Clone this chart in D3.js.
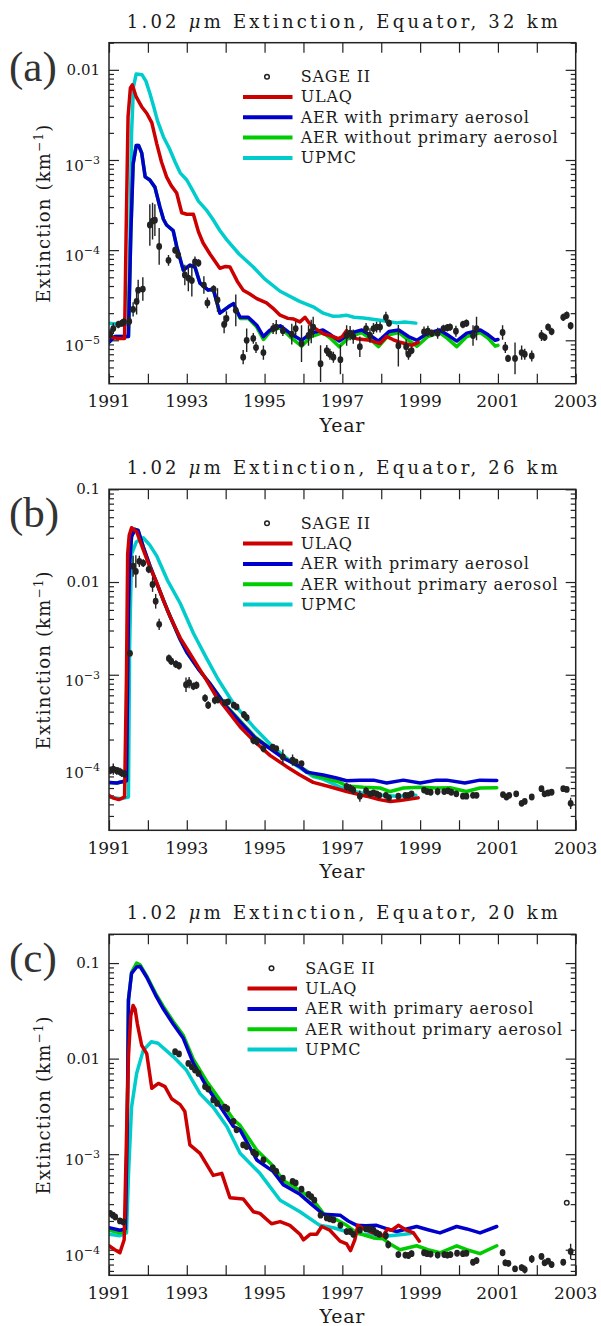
<!DOCTYPE html>
<html>
<head>
<meta charset="utf-8">
<script src="https://cdn.jsdelivr.net/npm/d3@7"></script>
<style>
  body { margin: 0; background: #fff; }
  svg text { fill: #1a1a1a; }
</style>
</head>
<body>
<script>
// ---- data (year, extinction km^-1) ----
const seriesNames = ['ULAQ', 'AER with primary aerosol', 'AER without primary aerosol', 'UPMC'];
const seriesColors = ['#cc0000', '#0000cc', '#00cc00', '#00cccc'];
const panelTags = ['(a)', '(b)', '(c)'];
const panelAltitudes = [32, 26, 20];
const xYears = d3.range(1991, 2004);

// 32 km
const ulaq32 = [[1991.0,1.1e-5],[1991.2,1.05e-5],[1991.4,1.05e-5],[1991.44,1.5e-4],[1991.49,3e-3],[1991.55,6.3e-3],[1991.6,6.8e-3],[1991.7,5e-3],[1991.84,3.9e-3],[1991.97,3.3e-3],[1992.1,2.6e-3],[1992.23,1.5e-3],[1992.35,9.5e-4],[1992.48,6.5e-4],[1992.6,5.2e-4],[1992.74,4.3e-4],[1992.87,2.6e-4],[1993.0,2.5e-4],[1993.17,2.5e-4],[1993.3,1.6e-4],[1993.42,1.2e-4],[1993.6,9e-5],[1993.85,6.3e-5],[1994.0,6.6e-5],[1994.11,6.5e-5],[1994.3,4.5e-5],[1994.45,3.6e-5],[1994.6,3.3e-5],[1994.8,2.9e-5],[1995.05,2.6e-5],[1995.25,2.2e-5],[1995.4,1.9e-5],[1995.6,1.75e-5],[1995.75,1.72e-5],[1995.91,1.6e-5],[1996.04,1.8e-5],[1996.15,1.55e-5],[1996.25,1.4e-5],[1996.51,1.18e-5],[1996.68,1.13e-5],[1996.9,1.04e-5],[1997.0,1.1e-5],[1997.11,1.28e-5],[1997.25,1.1e-5],[1997.37,1.04e-5],[1997.71,1.0e-5],[1997.97,9.2e-6],[1998.14,1.1e-5],[1998.3,1.02e-5],[1998.48,9.5e-6],[1998.78,8.8e-6],[1998.95,9.5e-6]];
const aerWith32 = [[1991.0,9.5e-6],[1991.15,1.1e-5],[1991.5,1.1e-5],[1991.56,1.5e-4],[1991.62,9e-4],[1991.7,1.45e-3],[1991.76,1.45e-3],[1991.84,1.2e-3],[1991.93,6.5e-4],[1992.05,6e-4],[1992.18,5e-4],[1992.31,3e-4],[1992.4,2.2e-4],[1992.48,1.9e-4],[1992.65,1.65e-4],[1992.74,1.1e-4],[1992.91,6e-5],[1993.08,6.8e-5],[1993.21,6.5e-5],[1993.34,4.3e-5],[1993.55,3.6e-5],[1993.68,3.7e-5],[1993.85,2e-5],[1994.07,2.35e-5],[1994.2,2.55e-5],[1994.37,1.8e-5],[1994.58,1.8e-5],[1994.8,1.47e-5],[1994.97,1.1e-5],[1995.14,1.3e-5],[1995.4,1.45e-5],[1995.65,1.2e-5],[1995.95,1.0e-5],[1996.2,1.2e-5],[1996.5,1.3e-5],[1996.7,1.15e-5],[1996.92,9.8e-6],[1997.2,1.2e-5],[1997.5,1.3e-5],[1997.7,1.15e-5],[1997.93,9.8e-6],[1998.2,1.25e-5],[1998.45,1.3e-5],[1998.7,1.1e-5],[1998.92,1.0e-5],[1999.2,1.2e-5],[1999.5,1.3e-5],[1999.7,1.15e-5],[1999.94,9.8e-6],[2000.2,1.2e-5],[2000.55,1.3e-5],[2000.75,1.15e-5],[2000.93,1.0e-5],[2001.0,1.02e-5]];
const aerWithout32 = [[1991.0,9.5e-6],[1991.15,1.1e-5],[1991.5,1.1e-5],[1991.56,1.5e-4],[1991.62,9e-4],[1991.7,1.45e-3],[1991.76,1.45e-3],[1991.84,1.2e-3],[1991.93,6.5e-4],[1992.05,6e-4],[1992.18,5e-4],[1992.31,3e-4],[1992.4,2.2e-4],[1992.48,1.9e-4],[1992.65,1.65e-4],[1992.74,1.1e-4],[1992.91,6e-5],[1993.08,6.8e-5],[1993.21,6.5e-5],[1993.34,4.3e-5],[1993.55,3.6e-5],[1993.68,3.7e-5],[1993.85,2e-5],[1994.07,2.35e-5],[1994.2,2.55e-5],[1994.37,1.75e-5],[1994.58,1.75e-5],[1994.8,1.4e-5],[1994.97,1.02e-5],[1995.14,1.25e-5],[1995.4,1.4e-5],[1995.65,1.1e-5],[1995.95,8.6e-6],[1996.2,1.1e-5],[1996.5,1.22e-5],[1996.7,1.05e-5],[1996.92,8.5e-6],[1997.2,1.1e-5],[1997.5,1.22e-5],[1997.7,1.05e-5],[1997.93,8.5e-6],[1998.2,1.15e-5],[1998.45,1.22e-5],[1998.7,1.0e-5],[1998.92,8.6e-6],[1999.2,1.1e-5],[1999.5,1.22e-5],[1999.7,1.05e-5],[1999.94,8.5e-6],[2000.2,1.1e-5],[2000.55,1.22e-5],[2000.75,1.05e-5],[2000.93,8.6e-6],[2001.0,8.8e-6]];
const upmc32 = [[1991.0,1.55e-5],[1991.3,1.5e-5],[1991.5,1.5e-5],[1991.54,1.5e-4],[1991.58,2e-3],[1991.63,6.5e-3],[1991.7,9e-3],[1991.85,8.8e-3],[1991.95,7.5e-3],[1992.05,5.5e-3],[1992.15,3.9e-3],[1992.25,2.7e-3],[1992.4,1.8e-3],[1992.55,1.35e-3],[1992.7,9.5e-4],[1992.83,7.2e-4],[1993.0,6e-4],[1993.15,4.6e-4],[1993.3,3.5e-4],[1993.5,2.8e-4],[1993.67,2.2e-4],[1993.85,1.65e-4],[1994.03,1.3e-4],[1994.35,9e-5],[1994.71,6.5e-5],[1995.0,4.8e-5],[1995.4,3.5e-5],[1995.9,2.7e-5],[1996.25,2.35e-5],[1996.51,2e-5],[1996.75,1.85e-5],[1996.94,1.86e-5],[1997.1,1.9e-5],[1997.3,1.8e-5],[1997.54,1.77e-5],[1997.97,1.67e-5],[1998.4,1.56e-5],[1998.6,1.6e-5],[1998.89,1.55e-5]];
// SAGE II: [year, value, error factor]
const sage32 = [[1991.03,1.17e-5,1.15],[1991.11,1.35e-5,1.15],[1991.24,1.5e-5,1.1],[1991.33,1.55e-5,1.1],[1991.38,1.6e-5,1.1],[1991.52,1.62e-5,1.15],[1991.62,2.2e-5,1.2],[1991.71,2.7e-5,1.4],[1991.75,3.6e-5,1.3],[1991.87,3.7e-5,1.35],[1992.05,1.9e-4,1.7],[1992.12,2.1e-4,1.6],[1992.18,2.15e-4,1.5],[1992.29,1.1e-4,1.6],[1992.53,7.7e-5,1.15],[1992.70,1.0e-4,1.1],[1992.78,8.8e-5,1.1],[1992.95,5.3e-5,1.3],[1993.04,4.9e-5,1.4],[1993.13,4.6e-5,1.5],[1993.21,7.4e-5,1.15],[1993.3,7.2e-5,1.1],[1993.44,4.1e-5,1.25],[1993.53,2.6e-5,1.15],[1993.69,3.7e-5,1.1],[1993.79,2.8e-5,1.35],[1993.96,1.5e-5,1.25],[1994.02,1.75e-5,1.2],[1994.26,2.15e-5,1.5],[1994.45,6.5e-6,1.2],[1994.54,1.0e-5,1.35],[1994.71,1.05e-5,1.15],[1994.78,8.3e-6,1.15],[1994.97,7.3e-6,1.2],[1995.22,1.35e-5,1.15],[1995.3,1.4e-5,1.2],[1995.47,1.28e-5,1.15],[1995.7,1.17e-5,1.3],[1995.8,1.35e-5,1.2],[1995.95,9.2e-6,1.6],[1996.13,1.13e-5,1.3],[1996.2,1.25e-5,1.35],[1996.25,1.4e-5,1.3],[1996.44,5.5e-6,1.6],[1996.6,7.7e-6,1.15],[1996.68,7e-6,1.15],[1996.77,6.5e-6,1.15],[1996.95,6.1e-6,1.45],[1997.11,1.13e-5,1.3],[1997.2,1.2e-5,1.2],[1997.28,1.1e-5,1.2],[1997.45,8.5e-6,1.3],[1997.61,1.35e-5,1.15],[1997.71,1.13e-5,1.2],[1997.8,1.35e-5,1.15],[1997.88,1.4e-5,1.15],[1997.97,1.4e-5,1.15],[1998.12,1.8e-5,1.15],[1998.2,1.55e-5,1.1],[1998.44,8.7e-6,1.7],[1998.64,8.5e-6,1.2],[1998.7,7e-6,1.15],[1998.78,7.7e-6,1.1],[1999.1,1.24e-5,1.15],[1999.2,1.26e-5,1.15],[1999.3,1.2e-5,1.1],[1999.45,1.2e-5,1.15],[1999.6,1.35e-5,1.1],[1999.7,1.38e-5,1.1],[1999.77,1.4e-5,1.1],[1999.92,1.26e-5,1.15],[2000.1,1.5e-5,1.1],[2000.19,1.55e-5,1.1],[2000.36,1.13e-5,1.3],[2000.45,1.35e-5,1.35],[2001.12,1.22e-5,1.2],[2001.19,8.3e-6,1.15],[2001.26,6.3e-6,1.1],[2001.44,6.3e-6,1.5],[2001.61,7.3e-6,1.2],[2001.69,7e-6,1.15],[2001.87,6.7e-6,1.15],[2002.12,1.13e-5,1.15],[2002.2,1.08e-5,1.1],[2002.29,1.4e-5,1.1],[2002.38,1.25e-5,1.1],[2002.68,1.8e-5,1.1],[2002.77,1.9e-5,1.1],[2002.87,1.45e-5,1.1]];

// 26 km
const ulaq26 = [[1991.0,5e-5],[1991.1,4.7e-5],[1991.25,4.5e-5],[1991.4,4.8e-5],[1991.45,1e-3],[1991.48,2e-2],[1991.52,3.2e-2],[1991.58,3.85e-2],[1991.71,3.5e-2],[1991.88,2.24e-2],[1992.05,1.45e-2],[1992.23,9.8e-3],[1992.4,6.3e-3],[1992.57,4.26e-3],[1992.83,2.5e-3],[1993.08,1.7e-3],[1993.3,1.2e-3],[1993.51,8.7e-4],[1993.75,5.9e-4],[1994.03,4.2e-4],[1994.37,2.75e-4],[1994.71,1.96e-4],[1995.14,1.35e-4],[1995.57,1.02e-4],[1995.91,8.3e-5],[1996.25,6.9e-5],[1996.68,6.2e-5],[1997.11,5.5e-5],[1997.62,4.9e-5],[1997.95,4.5e-5],[1998.23,4.3e-5],[1998.48,4.4e-5],[1998.95,4.7e-5]];
const aerWith26 = [[1991.0,6.9e-5],[1991.2,6.8e-5],[1991.45,7.2e-5],[1991.5,5e-3],[1991.53,1.6e-2],[1991.58,3.1e-2],[1991.67,3.7e-2],[1991.75,3.6e-2],[1991.88,2.4e-2],[1992.05,1.5e-2],[1992.23,9.6e-3],[1992.5,5e-3],[1992.83,2.4e-3],[1993.0,1.75e-3],[1993.3,1.15e-3],[1993.6,8e-4],[1994.0,4.6e-4],[1994.37,3.1e-4],[1994.75,2.1e-4],[1995.14,1.6e-4],[1995.5,1.25e-4],[1995.91,1.02e-4],[1996.08,8.9e-5],[1996.51,8.3e-5],[1996.85,7.7e-5],[1997.11,7.2e-5],[1997.45,7.3e-5],[1997.8,7.3e-5],[1998.14,6.8e-5],[1998.57,7.3e-5],[1999.0,6.8e-5],[1999.42,7.3e-5],[1999.68,7.3e-5],[2000.15,6.8e-5],[2000.54,7.3e-5],[2000.97,7.25e-5]];
const aerWithout26 = [[1991.0,6.9e-5],[1991.2,6.8e-5],[1991.45,7.2e-5],[1991.5,5e-3],[1991.53,1.6e-2],[1991.58,3.1e-2],[1991.67,3.7e-2],[1991.75,3.6e-2],[1991.88,2.4e-2],[1992.05,1.5e-2],[1992.23,9.6e-3],[1992.5,5e-3],[1992.83,2.4e-3],[1993.0,1.75e-3],[1993.3,1.15e-3],[1993.6,8e-4],[1994.0,4.7e-4],[1994.37,3.2e-4],[1994.75,2.15e-4],[1995.14,1.62e-4],[1995.5,1.28e-4],[1995.91,1.02e-4],[1996.25,8.3e-5],[1996.94,6.9e-5],[1997.11,6.3e-5],[1997.54,6.1e-5],[1997.97,6e-5],[1998.23,5.5e-5],[1998.57,6e-5],[1999.0,6.1e-5],[1999.42,6e-5],[1999.77,6.05e-5],[2000.19,5.5e-5],[2000.54,6e-5],[2000.97,6.05e-5]];
const upmc26 = [[1991.0,4.8e-5],[1991.3,4.6e-5],[1991.5,4.8e-5],[1991.53,2e-3],[1991.58,2e-2],[1991.7,2.7e-2],[1991.88,3e-2],[1992.05,2.5e-2],[1992.23,1.9e-2],[1992.5,1.05e-2],[1992.83,5.9e-3],[1993.17,2.8e-3],[1993.51,1.5e-3],[1993.8,9e-4],[1994.2,4.9e-4],[1994.71,2.75e-4],[1995.22,1.66e-4],[1995.74,1.1e-4],[1996.25,8e-5],[1996.5,7.5e-5],[1997.0,6e-5],[1997.3,5.5e-5],[1997.6,5.2e-5],[1998.0,5.0e-5],[1998.4,4.9e-5],[1998.89,5.0e-5]];
const sage26 = [[1991.03,9.3e-5,1.1],[1991.11,9.6e-5,1.15],[1991.2,9.2e-5,1.1],[1991.28,9e-5,1.1],[1991.33,8.7e-5,1.1],[1991.4,8.5e-5,1.1],[1991.54,1.7e-3,1.05],[1991.62,1.48e-2,1.3],[1991.69,1.3e-2,1.5],[1991.78,1.67e-2,1.15],[1991.88,1.6e-2,1.1],[1992.02,1.37e-2,1.1],[1992.12,9.4e-3,1.2],[1992.2,6.2e-3,1.2],[1992.29,3.5e-3,1.15],[1992.54,1.5e-3,1.1],[1992.6,1.4e-3,1.1],[1992.72,1.3e-3,1.1],[1992.8,1.25e-3,1.1],[1992.98,7.8e-4,1.2],[1993.06,8.2e-4,1.15],[1993.17,7.5e-4,1.1],[1993.25,7.7e-4,1.1],[1993.47,5.6e-4,1.1],[1993.55,4.7e-4,1.1],[1993.72,5.3e-4,1.1],[1993.8,5.4e-4,1.1],[1993.98,5e-4,1.05],[1994.06,5.1e-4,1.05],[1994.21,4.7e-4,1.05],[1994.28,4.5e-4,1.05],[1994.47,3.7e-4,1.1],[1994.54,3.45e-4,1.1],[1994.71,1.96e-4,1.1],[1994.8,1.9e-4,1.1],[1994.97,1.6e-4,1.1],[1995.21,1.66e-4,1.05],[1995.3,1.6e-4,1.05],[1995.47,1.3e-4,1.2],[1995.72,1.2e-4,1.15],[1995.8,1.15e-4,1.05],[1995.95,1.1e-4,1.05],[1997.11,6.2e-5,1.1],[1997.2,6e-5,1.1],[1997.28,5.7e-5,1.1],[1997.45,4.9e-5,1.15],[1997.61,5.6e-5,1.1],[1997.71,5.2e-5,1.05],[1997.8,5.3e-5,1.05],[1997.88,5.2e-5,1.05],[1997.95,5e-5,1.05],[1998.12,5.0e-5,1.05],[1998.2,4.7e-5,1.05],[1998.44,4.9e-5,1.05],[1998.62,5e-5,1.05],[1998.7,5e-5,1.05],[1998.78,5.2e-5,1.05],[1999.1,5.7e-5,1.05],[1999.18,5.5e-5,1.05],[1999.27,5.4e-5,1.05],[1999.45,5.5e-5,1.1],[1999.62,5.5e-5,1.05],[1999.72,5.6e-5,1.05],[1999.8,5.4e-5,1.05],[1999.93,5.2e-5,1.05],[2000.1,4.9e-5,1.05],[2000.19,4.9e-5,1.05],[2000.36,5e-5,1.05],[2000.45,5e-5,1.05],[2001.13,5.1e-5,1.05],[2001.22,4.8e-5,1.05],[2001.29,5e-5,1.05],[2001.47,5.2e-5,1.05],[2001.61,4.1e-5,1.05],[2001.69,4.3e-5,1.05],[2001.87,4.8e-5,1.05],[2002.12,5.9e-5,1.05],[2002.2,5.2e-5,1.05],[2002.29,5.3e-5,1.05],[2002.38,5.4e-5,1.05],[2002.68,5.9e-5,1.05],[2002.77,5.8e-5,1.05],[2002.87,4.1e-5,1.15]];

// 20 km
const ulaq20 = [[1991.0,1.1e-4],[1991.15,1e-4],[1991.28,9.3e-5],[1991.39,1.27e-4],[1991.45,1.5e-3],[1991.5,1.05e-2],[1991.56,2.8e-2],[1991.62,3.6e-2],[1991.67,3.3e-2],[1991.73,2.3e-2],[1991.84,1.38e-2],[1991.97,1.13e-2],[1992.1,4.9e-3],[1992.27,5.5e-3],[1992.44,5.1e-3],[1992.61,3.8e-3],[1992.83,3.3e-3],[1992.95,2.8e-3],[1993.08,1.25e-3],[1993.34,1.02e-3],[1993.68,6e-4],[1993.9,6.3e-4],[1994.11,3.5e-4],[1994.45,3.4e-4],[1994.71,2.5e-4],[1994.88,2.4e-4],[1995.18,1.87e-4],[1995.4,1.97e-4],[1995.65,1.8e-4],[1995.91,1.45e-4],[1996.0,1.27e-4],[1996.17,1.45e-4],[1996.34,1.45e-4],[1996.47,1.75e-4],[1996.68,1.6e-4],[1996.94,1.23e-4],[1997.11,1.15e-4],[1997.21,9.8e-5],[1997.32,1.27e-4],[1997.4,1.8e-4],[1997.62,1.6e-4],[1997.88,1.45e-4],[1998.05,1.4e-4],[1998.16,1.65e-4],[1998.27,1.6e-4],[1998.44,1.8e-4],[1998.65,1.6e-4],[1998.83,1.5e-4],[1998.98,1.23e-4]];
const aerWith20 = [[1991.0,1.7e-4],[1991.28,1.6e-4],[1991.42,1.65e-4],[1991.47,2e-3],[1991.5,4.1e-2],[1991.58,7.8e-2],[1991.71,9.1e-2],[1991.8,9.2e-2],[1991.97,7.1e-2],[1992.2,4.6e-2],[1992.4,3.3e-2],[1992.65,2.3e-2],[1992.91,1.63e-2],[1993.17,8.9e-3],[1993.51,5.1e-3],[1993.85,3.2e-3],[1994.2,1.95e-3],[1994.37,1.8e-3],[1994.8,8.7e-4],[1995.22,6.6e-4],[1995.48,4.8e-4],[1995.91,3.8e-4],[1996.2,3e-4],[1996.51,2.35e-4],[1996.94,2.3e-4],[1997.15,2e-4],[1997.37,1.8e-4],[1997.6,1.78e-4],[1997.88,1.8e-4],[1998.15,1.65e-4],[1998.4,1.55e-4],[1998.91,1.75e-4],[1999.2,1.62e-4],[1999.51,1.5e-4],[1999.94,1.75e-4],[2000.2,1.65e-4],[2000.54,1.5e-4],[2000.97,1.75e-4]];
const aerWithout20 = [[1991.0,1.6e-4],[1991.28,1.5e-4],[1991.42,1.55e-4],[1991.47,2e-3],[1991.5,4.1e-2],[1991.58,8e-2],[1991.71,1e-1],[1991.8,9.6e-2],[1991.97,7.3e-2],[1992.2,4.8e-2],[1992.4,3.5e-2],[1992.65,2.45e-2],[1992.91,1.75e-2],[1993.17,9.8e-3],[1993.51,5.8e-3],[1993.85,3.7e-3],[1994.2,2.3e-3],[1994.37,2.0e-3],[1994.8,1.1e-3],[1995.22,7.5e-4],[1995.48,5.3e-4],[1995.91,4.2e-4],[1996.25,3.3e-4],[1996.51,2.4e-4],[1996.77,2.15e-4],[1997.11,1.8e-4],[1997.37,1.5e-4],[1997.8,1.33e-4],[1998.05,1.3e-4],[1998.23,1.15e-4],[1998.48,1.0e-4],[1998.91,1.1e-4],[1999.2,1.0e-4],[1999.51,9.3e-5],[1999.94,1.1e-4],[2000.2,1.0e-4],[2000.54,9.1e-5],[2000.97,1.1e-4]];
const upmc20 = [[1991.0,1.45e-4],[1991.28,1.4e-4],[1991.45,1.5e-4],[1991.5,6e-4],[1991.58,3.1e-3],[1991.71,7e-3],[1991.88,1.22e-2],[1992.09,1.5e-2],[1992.26,1.45e-2],[1992.65,1.05e-2],[1992.99,7.6e-3],[1993.34,4.3e-3],[1993.68,3.1e-3],[1994.03,1.95e-3],[1994.37,1.02e-3],[1994.88,6.3e-4],[1995.4,3.3e-4],[1995.91,2.5e-4],[1996.42,1.8e-4],[1996.77,1.7e-4],[1997.1,1.55e-4],[1997.54,1.45e-4],[1998.23,1.4e-4],[1998.6,1.45e-4],[1998.83,1.5e-4]];
const sage20 = [[1991.03,2.4e-4,1.05],[1991.1,2.3e-4,1.05],[1991.16,2.2e-4,1.05],[1991.28,2e-4,1.05],[1991.37,1.95e-4,1.05],[1992.7,1.18e-2,1.05],[1992.8,1.12e-2,1.05],[1993.04,8.9e-3,1.05],[1993.13,8.2e-3,1.05],[1993.21,7.6e-3,1.05],[1993.3,7e-3,1.05],[1993.47,5.1e-3,1.05],[1993.55,4.8e-3,1.05],[1993.68,3.7e-3,1.05],[1993.78,3.4e-3,1.05],[1993.98,3.1e-3,1.05],[1994.04,3e-3,1.05],[1994.2,2.2e-3,1.05],[1994.28,1.8e-3,1.05],[1994.45,1.25e-3,1.05],[1994.54,1.2e-3,1.05],[1994.71,1.05e-3,1.05],[1994.78,1.0e-3,1.05],[1994.97,8.7e-4,1.05],[1995.21,7.2e-4,1.05],[1995.3,6.6e-4,1.05],[1995.47,5.6e-4,1.05],[1995.72,5.2e-4,1.05],[1995.8,5e-4,1.05],[1995.95,4.3e-4,1.05],[1996.13,3.8e-4,1.05],[1996.2,3.6e-4,1.05],[1996.28,3.3e-4,1.05],[1996.44,2.3e-4,1.05],[1996.6,2.15e-4,1.05],[1996.68,2.1e-4,1.05],[1996.77,2.05e-4,1.05],[1996.95,1.8e-4,1.05],[1997.11,1.55e-4,1.08],[1997.2,1.55e-4,1.08],[1997.28,1.45e-4,1.08],[1997.45,1.6e-4,1.05],[1997.61,1.65e-4,1.05],[1997.71,1.65e-4,1.05],[1997.8,1.6e-4,1.05],[1997.88,1.5e-4,1.05],[1997.95,1.45e-4,1.05],[1998.12,1.4e-4,1.1],[1998.18,1.13e-4,1.1],[1998.44,8.9e-5,1.08],[1998.62,8.8e-5,1.08],[1998.7,8.7e-5,1.08],[1998.78,9.1e-5,1.08],[1999.1,9.3e-5,1.08],[1999.18,9.1e-5,1.08],[1999.27,9e-5,1.08],[1999.45,8.8e-5,1.08],[1999.62,8.9e-5,1.08],[1999.7,8.8e-5,1.08],[1999.78,8.9e-5,1.08],[1999.95,9.2e-5,1.08],[2000.1,9.1e-5,1.08],[2000.19,9.2e-5,1.08],[2000.36,7.4e-5,1.08],[2000.45,7.7e-5,1.08],[2001.12,9.3e-5,1.08],[2001.19,7.3e-5,1.08],[2001.27,7.2e-5,1.08],[2001.44,6.3e-5,1.08],[2001.61,6.5e-5,1.08],[2001.69,6.2e-5,1.1],[2001.87,8e-5,1.1],[2002.12,8.5e-5,1.08],[2002.2,7.3e-5,1.08],[2002.29,7.6e-5,1.08],[2002.38,7e-5,1.08],[2002.68,7.4e-5,1.08],[2002.87,9.6e-5,1.2]];
const sage20Open = [[2002.77, 3.1e-4]];

// ---- layout ----
const W = 601, H = 1326;
const plotLeft = 109, plotW = 466.7, plotH = 341;
const serif = "'DejaVu Serif', serif";
const tagFont = "'Liberation Serif', 'Times New Roman', serif";

const panels = [
  { top: 42.7, domain: [3.3e-6, 0.02], series: [ulaq32, aerWith32, aerWithout32, upmc32], sage: sage32, open: [], legDx: 0 },
  { top: 489.3, domain: [2.1e-5, 0.1], series: [ulaq26, aerWith26, aerWithout26, upmc26], sage: sage26, open: [], legDx: 0 },
  { top: 934.3, domain: [5.4e-5, 0.2], series: [ulaq20, aerWith20, aerWithout20, upmc20], sage: sage20, open: sage20Open, legDx: 4.5 }
];

const svg = d3.select('body').
append('svg').
attr('width', W).
attr('height', H).
style('display', 'block');

svg.append('rect').attr('width', W).attr('height', H).attr('fill', '#fff');

const x = d3.scaleLinear().domain([1991, 2003]).range([0, plotW]);
const drawOrder = [3, 2, 1, 0]; // UPMC under, ULAQ on top

let addText = (parent, size, family) => parent.append('text').
style('font-family', family || serif).
attr('font-size', size);

let drawPanel = (p, i) => {
  const g = svg.append('g').attr('transform', 'translate(' + plotLeft + ',' + p.top + ')');
  const y = d3.scaleLog().domain(p.domain).range([plotH, 0]);

  // title
  const title = addText(svg, 18).
  attr('x', plotLeft + plotW / 2).
  attr('y', p.top - 15).
  attr('text-anchor', 'middle').
  attr('textLength', 431).
  attr('lengthAdjust', 'spacing');
  title.append('tspan').text('1.02 ');
  title.append('tspan').attr('font-style', 'italic').text('\u03bc');
  title.append('tspan').text('m Extinction, Equator, ' + panelAltitudes[i] + ' km');

  // panel tag
  addText(svg, 43, tagFont).
  attr('x', 9).
  attr('y', p.top + 38).
  style('fill', '#333').
  text(panelTags[i]);

  // y label
  const yl = addText(svg, 18).
  attr('transform', 'translate(50,' + (p.top + plotH / 2) + ') rotate(-90)').
  attr('text-anchor', 'middle').
  attr('letter-spacing', 1.2);
  yl.append('tspan').text('Extinction (km');
  yl.append('tspan').attr('font-size', 12).attr('dy', -7).text('\u22121');
  yl.append('tspan').attr('dy', 7).text(')');

  // ticks
  const e0 = Math.floor(Math.log10(p.domain[0])), e1 = Math.ceil(Math.log10(p.domain[1]));
  const majors = [], minors = [];
  for (let e = e0; e <= e1; e++) {
    for (let m = 1; m <= 9; m++) {
      const v = m * Math.pow(10, e);
      if (v < p.domain[0] * 0.999 || v > p.domain[1] * 1.001) continue;
      (m === 1 ? majors : minors).push(v);
    }
  }

  const axes = g.append('g').attr('class', 'axes');
  const styleAxis = sel => {
    sel.select('.domain').remove();
    sel.selectAll('line').attr('stroke', '#222').attr('stroke-width', 1.2);
  };
  axes.append('g').call(d3.axisLeft(y).tickValues(majors).tickSize(-10).tickSizeOuter(0).tickFormat('')).call(styleAxis);
  axes.append('g').call(d3.axisLeft(y).tickValues(minors).tickSize(-5).tickSizeOuter(0).tickFormat('')).call(styleAxis);
  axes.append('g').attr('transform', 'translate(' + plotW + ',0)').
  call(d3.axisRight(y).tickValues(majors).tickSize(-10).tickSizeOuter(0).tickFormat('')).call(styleAxis);
  axes.append('g').attr('transform', 'translate(' + plotW + ',0)').
  call(d3.axisRight(y).tickValues(minors).tickSize(-5).tickSizeOuter(0).tickFormat('')).call(styleAxis);
  axes.append('g').attr('transform', 'translate(0,' + plotH + ')').
  call(d3.axisBottom(x).tickValues(xYears).tickSize(-10).tickSizeOuter(0).tickFormat('')).call(styleAxis);
  axes.append('g').
  call(d3.axisTop(x).tickValues(xYears).tickSize(-10).tickSizeOuter(0).tickFormat('')).call(styleAxis);

  // y tick labels
  majors.forEach(v => {
    const e = Math.round(Math.log10(v));
    if (v >= 0.01) {
      addText(g, 15).attr('x', -9).attr('y', y(v) + 5).
      attr('text-anchor', 'end').text(v >= 0.1 ? '0.1' : '0.01');
    } else {
      const t = addText(g, 15).attr('x', -9).attr('y', y(v) + 11).
      attr('text-anchor', 'end');
      t.append('tspan').text('10');
      t.append('tspan').attr('font-size', 11).attr('dy', -7).text('\u2212' + -e);
    }
  });

  // x tick labels
  xYears.filter(d => (d - 1991) % 2 === 0).forEach(d => {
    addText(g, 17).attr('x', x(d)).attr('y', plotH + 23.5).
    attr('text-anchor', 'middle').text(d);
  });
  addText(g, 19).attr('x', plotW / 2).attr('y', plotH + 48).
  attr('text-anchor', 'middle').attr('letter-spacing', 0.8).text('Year');

  // clip
  const clipId = 'clip' + i;
  g.append('clipPath').attr('id', clipId).append('rect').attr('width', plotW).attr('height', plotH);
  const plot = g.append('g').attr('clip-path', 'url(#' + clipId + ')');

  const line = d3.line().x(d => x(d[0])).y(d => y(d[1]));
  drawOrder.forEach(k => {
    plot.append('path').
    datum(p.series[k]).
    attr('d', line).
    attr('fill', 'none').
    attr('stroke', seriesColors[k]).
    attr('stroke-width', 3.5).
    attr('stroke-linejoin', 'round').
    attr('stroke-linecap', 'round');
  });

  // SAGE II error bars + dots
  plot.append('g').selectAll('line').
  data(p.sage).
  enter().
  append('line').
  attr('x1', d => x(d[0])).attr('x2', d => x(d[0])).
  attr('y1', d => y(d[1] * d[2])).attr('y2', d => y(d[1] / d[2])).
  attr('stroke', '#222').attr('stroke-width', 1.4);
  plot.append('g').selectAll('ellipse').
  data(p.sage).
  enter().
  append('ellipse').
  attr('cx', d => x(d[0])).attr('cy', d => y(d[1])).
  attr('rx', 2.9).attr('ry', 3.4).
  attr('fill', '#222');
  plot.append('g').selectAll('circle').
  data(p.open).
  enter().
  append('circle').
  attr('cx', d => x(d[0])).attr('cy', d => y(d[1])).
  attr('r', 2.3).attr('fill', 'none').attr('stroke', '#222').attr('stroke-width', 1.4);

  // frame
  g.append('rect').attr('width', plotW).attr('height', plotH).
  attr('fill', 'none').attr('stroke', '#222').attr('stroke-width', 1.5);

  // legend
  const leg = g.append('g').attr('transform', 'translate(' + p.legDx + ',34)');
  const rowH = 20.3;
  leg.append('circle').attr('cx', 158).attr('cy', 0).attr('r', 2.3).
  attr('fill', 'none').attr('stroke', '#222').attr('stroke-width', 1.5);
  addText(leg, 16).attr('x', 191.7).attr('y', 5.5).
  attr('letter-spacing', 0.8).text('SAGE II');
  seriesNames.forEach((name, k) => {
    const yy = rowH * (k + 1);
    leg.append('line').attr('x1', 134).attr('x2', 183.5).attr('y1', yy).attr('y2', yy).
    attr('stroke', seriesColors[k]).attr('stroke-width', 4);
    addText(leg, 16).attr('x', 191.7).attr('y', yy + 5.5).
    attr('letter-spacing', 0.8).text(name);
  });
};

panels.forEach(drawPanel);
</script>
</body>
</html>
